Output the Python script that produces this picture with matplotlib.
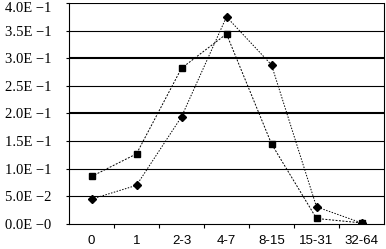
import matplotlib
matplotlib.use("Agg")
import matplotlib.pyplot as plt
import matplotlib.transforms as mtransforms
import numpy as np

categories = ["0", "1", "2-3", "4-7", "8-15", "15-31", "32-64"]
diamond_vals = [0.045, 0.070, 0.194, 0.375, 0.288, 0.031, 0.002]
square_vals = [0.086, 0.127, 0.282, 0.344, 0.145, 0.010, 0.002]
y_ticks = [0.0, 0.05, 0.10, 0.15, 0.20, 0.25, 0.30, 0.35, 0.40]
y_labels = ["0.0E \u22120", "5.0E \u22122", "1.0E \u22121", "1.5E \u22121", "2.0E \u22121",
            "2.5E \u22121", "3.0E \u22121", "3.5E \u22121", "4.0E \u22121"]

fig = plt.figure(figsize=(3.86, 2.49), dpi=100)
ax = fig.add_axes([69 / 386, 25 / 249, 315 / 386, 221 / 249])

x = np.arange(len(categories))

# gridlines (two of them render heavier in the original)
for yv in y_ticks[1:]:
    lw = 1.5 if yv in (0.20, 0.30) else 0.8
    ax.axhline(yv, color="black", lw=lw, zorder=1)

ax.plot(x, diamond_vals, color="black", lw=0.7, ls=(0, (1.5, 1.5)),
        marker="D", ms=4.5, mfc="black", mec="black", zorder=3)
ax.plot(x, square_vals, color="black", lw=0.7, ls=(0, (2, 1.5)),
        marker="s", ms=5, mfc="black", mec="black", zorder=3)

ax.set_xlim(-0.5, len(categories) - 0.5)
ax.set_ylim(0, 0.40)

ax.set_yticks(y_ticks)
ax.set_yticklabels(y_labels, fontfamily="Liberation Serif", fontsize=10.5)
ax.tick_params(axis="y", direction="out", length=2.5, width=0.8, pad=10)

# nudge the top label down a bit so it stays inside the figure
top_lbl = ax.get_yticklabels()[-1]
top_lbl.set_transform(top_lbl.get_transform() +
                      mtransforms.ScaledTranslation(0, -3 / 72, fig.dpi_scale_trans))

ax.set_xticks(x)
ax.set_xticklabels(categories, fontfamily="Liberation Sans", fontsize=9.5)
ax.tick_params(axis="x", length=0, pad=8)
ax.set_xticks(np.arange(0.5, len(categories) - 1, 1), minor=True)
ax.tick_params(axis="x", which="minor", direction="out", length=3, width=0.8)

for side in ["left", "right", "bottom"]:
    ax.spines[side].set_linewidth(0.8)
    ax.spines[side].set_color("black")
ax.spines["top"].set_visible(False)

fig.savefig("out.png", dpi=100)
